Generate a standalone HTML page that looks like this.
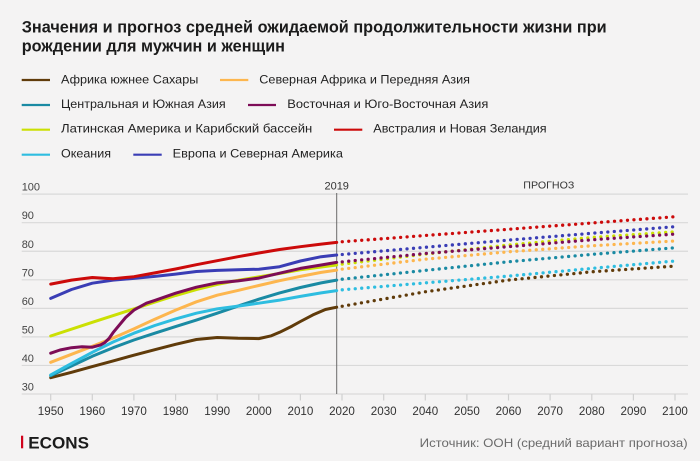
<!DOCTYPE html>
<html><head><meta charset="utf-8"><style>
html,body{margin:0;padding:0;background:#f4f3f3;}
svg{display:block;font-family:"Liberation Sans","Noto Sans CJK SC",sans-serif;}
</style></head><body>
<svg width="700" height="461" viewBox="0 0 700 461" xmlns="http://www.w3.org/2000/svg">
<rect x="0" y="0" width="700" height="461" fill="#f4f3f3"/>
<!-- title -->
<text x="21.7" y="32.5" font-size="16.5" font-weight="bold" fill="#1b1b1b" textLength="585" lengthAdjust="spacingAndGlyphs">Значения и прогноз средней ожидаемой продолжительности жизни при</text>
<text x="21.7" y="51.3" font-size="16.5" font-weight="bold" fill="#1b1b1b" textLength="263.3" lengthAdjust="spacingAndGlyphs">рождении для мужчин и женщин</text>
<!-- legend -->
<g stroke-width="2.2">
<line x1="21.7" y1="80" x2="50" y2="80" stroke="#603b0a"/>
<line x1="220" y1="80" x2="248.3" y2="80" stroke="#fdb64e"/>
<line x1="21.7" y1="105" x2="50" y2="105" stroke="#1a8aa3"/>
<line x1="248" y1="105" x2="276" y2="105" stroke="#7d0c57"/>
<line x1="21.7" y1="129.7" x2="50" y2="129.7" stroke="#cbe003"/>
<line x1="334" y1="129.7" x2="362.3" y2="129.7" stroke="#cc0a0a"/>
<line x1="21.7" y1="154.7" x2="50" y2="154.7" stroke="#2ebde0"/>
<line x1="133.3" y1="154.7" x2="161.7" y2="154.7" stroke="#3a3db5"/>
</g>
<g font-size="11.8" fill="#222">
<text x="61" y="83.3" textLength="137.3" lengthAdjust="spacingAndGlyphs">Африка южнее Сахары</text>
<text x="259.3" y="83.3" textLength="210.7" lengthAdjust="spacingAndGlyphs">Северная Африка и Передняя Азия</text>
<text x="61" y="107.9" textLength="164.7" lengthAdjust="spacingAndGlyphs">Центральная и Южная Азия</text>
<text x="287.3" y="107.9" textLength="201" lengthAdjust="spacingAndGlyphs">Восточная и Юго-Восточная Азия</text>
<text x="61" y="132.6" textLength="251.3" lengthAdjust="spacingAndGlyphs">Латинская Америка и Карибский бассейн</text>
<text x="373.3" y="132.6" textLength="173.3" lengthAdjust="spacingAndGlyphs">Австралия и Новая Зеландия</text>
<text x="61" y="157.7" textLength="50" lengthAdjust="spacingAndGlyphs">Океания</text>
<text x="172.7" y="157.7" textLength="170.2" lengthAdjust="spacingAndGlyphs">Европа и Северная Америка</text>
</g>
<!-- grid -->
<g stroke="#d9d9d9" stroke-width="1.2">
<line x1="21.7" y1="194.15" x2="688" y2="194.15"/>
<line x1="21.7" y1="222.7" x2="688" y2="222.7"/>
<line x1="21.7" y1="251.25" x2="688" y2="251.25"/>
<line x1="21.7" y1="279.8" x2="688" y2="279.8"/>
<line x1="21.7" y1="308.35" x2="688" y2="308.35"/>
<line x1="21.7" y1="336.9" x2="688" y2="336.9"/>
<line x1="21.7" y1="365.45" x2="688" y2="365.45"/>
<line x1="21.7" y1="394" x2="688" y2="394"/>
</g>
<g stroke="#d0d0d0" stroke-width="1.2">
<line x1="50.7" y1="394" x2="50.7" y2="400.5"/>
<line x1="92.3" y1="394" x2="92.3" y2="400.5"/>
<line x1="133.9" y1="394" x2="133.9" y2="400.5"/>
<line x1="175.6" y1="394" x2="175.6" y2="400.5"/>
<line x1="217.2" y1="394" x2="217.2" y2="400.5"/>
<line x1="258.8" y1="394" x2="258.8" y2="400.5"/>
<line x1="300.4" y1="394" x2="300.4" y2="400.5"/>
<line x1="342.0" y1="394" x2="342.0" y2="400.5"/>
<line x1="383.7" y1="394" x2="383.7" y2="400.5"/>
<line x1="425.3" y1="394" x2="425.3" y2="400.5"/>
<line x1="466.9" y1="394" x2="466.9" y2="400.5"/>
<line x1="508.5" y1="394" x2="508.5" y2="400.5"/>
<line x1="550.1" y1="394" x2="550.1" y2="400.5"/>
<line x1="591.8" y1="394" x2="591.8" y2="400.5"/>
<line x1="633.4" y1="394" x2="633.4" y2="400.5"/>
<line x1="675.0" y1="394" x2="675.0" y2="400.5"/>
</g>
<!-- y labels -->
<g font-size="11" fill="#444">
<text x="21.7" y="190.7">100</text>
<text x="21.7" y="219.2">90</text>
<text x="21.7" y="247.8">80</text>
<text x="21.7" y="276.3">70</text>
<text x="21.7" y="304.9">60</text>
<text x="21.7" y="333.4">50</text>
<text x="21.7" y="362">40</text>
<text x="21.7" y="390.5">30</text>
</g>
<!-- x labels -->
<g font-size="11.6" fill="#333" text-anchor="middle">
<text x="50.7" y="415">1950</text>
<text x="92.3" y="415">1960</text>
<text x="133.9" y="415">1970</text>
<text x="175.6" y="415">1980</text>
<text x="217.2" y="415">1990</text>
<text x="258.8" y="415">2000</text>
<text x="300.4" y="415">2010</text>
<text x="342.0" y="415">2020</text>
<text x="383.7" y="415">2030</text>
<text x="425.3" y="415">2040</text>
<text x="466.9" y="415">2050</text>
<text x="508.5" y="415">2060</text>
<text x="550.1" y="415">2070</text>
<text x="591.8" y="415">2080</text>
<text x="633.4" y="415">2090</text>
<text x="675.0" y="415">2100</text>
</g>
<!-- 2019 marker -->
<line x1="336.7" y1="193" x2="336.7" y2="394" stroke="#6a6a6a" stroke-width="1"/>
<text x="336.7" y="189.3" font-size="11" fill="#333" text-anchor="middle">2019</text>
<text x="523.3" y="188.5" font-size="10.5" fill="#333" textLength="51" lengthAdjust="spacingAndGlyphs">ПРОГНОЗ</text>
<!-- historical series -->
<g fill="none" stroke-width="3" stroke-linejoin="round" stroke-linecap="round">
<polyline stroke="#603b0a" points="50.7,377.7 71.5,372.3 92.3,366.6 113.1,360.9 133.9,355.2 154.8,349.7 175.6,344.3 196.4,339.5 217.2,337.5 238.0,338.3 258.8,338.6 271.3,335.8 279.6,332.3 292.1,326.1 300.4,321.5 312.9,314.9 325.4,309.5 336.7,307.2"/>
<polyline stroke="#1a8aa3" points="50.7,375.7 71.5,366.0 92.3,356.3 113.1,347.7 133.9,340.0 154.8,333.2 175.6,326.6 196.4,320.1 217.2,313.2 238.0,306.1 258.8,299.2 279.6,292.9 300.4,287.5 321.2,282.9 336.7,280.1"/>
<polyline stroke="#2ebde0" points="50.7,374.9 71.5,363.5 92.3,352.3 113.1,342.0 133.9,333.2 154.8,325.5 175.6,318.9 196.4,313.2 217.2,308.9 238.0,306.1 258.8,303.2 279.6,300.1 300.4,296.4 321.2,292.9 336.7,290.6"/>
<polyline stroke="#fdb64e" points="50.7,362.3 71.5,354.3 92.3,346.3 113.1,338.0 133.9,328.9 154.8,319.2 175.6,310.1 196.4,301.8 217.2,295.2 238.0,290.4 258.8,285.5 279.6,280.7 300.4,276.4 321.2,272.4 336.7,270.1"/>
<polyline stroke="#cbe003" points="50.7,336.0 92.3,322.3 133.9,308.9 154.8,302.1 175.6,295.5 196.4,289.5 217.2,284.4 238.0,280.4 258.8,276.9 279.6,273.5 300.4,269.8 321.2,267.0 336.7,265.0"/>
<polyline stroke="#7d0c57" points="50.7,353.2 60,350 71.5,347.7 82,346.8 92.3,347.2 100.6,344.9 104.8,342.6 109,338.5 113.1,332.6 125.6,317.5 133.9,310.1 146.4,303.2 154.8,300.4 175.6,293.2 196.4,287.2 217.2,282.9 238.0,280.9 258.8,278.1 279.6,273.2 300.4,268.4 321.2,265.0 336.7,262.4"/>
<polyline stroke="#3a3db5" points="50.7,298.4 71.5,289.5 92.3,283.2 113.1,280.1 133.9,278.4 154.8,276.4 175.6,274.1 196.4,271.5 217.2,270.4 238.0,269.8 258.8,269.2 279.6,266.7 300.4,261.0 321.2,256.7 336.7,255.0"/>
<polyline stroke="#cc0a0a" points="50.7,284.1 71.5,280.1 92.3,277.5 104,278.2 113.1,278.7 133.9,276.7 154.8,272.9 175.6,269.0 196.4,264.7 217.2,260.7 238.0,256.7 258.8,253.0 279.6,249.5 300.4,246.7 321.2,244.1 336.7,242.4"/>
</g>
<!-- projections -->
<g fill="none" stroke-width="3.3" stroke-linecap="round" stroke-dasharray="0 6.5" stroke-dashoffset="0.9">
<polyline stroke="#603b0a" points="336.7,307.2 425.3,291.8 508.5,280.1 591.8,271.8 675.0,266.1"/>
<polyline stroke="#1a8aa3" points="336.7,279.8 425.3,270.4 508.5,261.8 591.8,254.4 675.0,247.8"/>
<polyline stroke="#2ebde0" points="336.7,290.3 425.3,282.9 508.5,276.1 591.8,268.4 675.0,261.0"/>
<polyline stroke="#fdb64e" points="336.7,269.8 425.3,259.2 508.5,251.8 591.8,245.8 675.0,241.0"/>
<polyline stroke="#cbe003" points="336.7,264.8 425.3,254.1 508.5,245.0 591.8,237.5 675.0,231.8"/>
<polyline stroke="#7d0c57" points="336.7,262.4 425.3,253.5 508.5,246.7 591.8,239.8 675.0,234.1"/>
<polyline stroke="#3a3db5" points="336.7,255.0 425.3,247.3 508.5,240.1 591.8,233.3 675.0,226.7"/>
<polyline stroke="#cc0a0a" points="336.7,242.2 425.3,235.5 508.5,229.3 591.8,223.0 675.0,216.7"/>
</g>
<!-- footer -->
<rect x="21" y="435.7" width="2.2" height="12.6" fill="#d0021b"/>
<text x="28.3" y="448.3" font-size="17" font-weight="bold" fill="#1b1b1b" textLength="60.7" lengthAdjust="spacingAndGlyphs">ECONS</text>
<text x="419.6" y="446.8" font-size="12" fill="#6b6b6b" textLength="268" lengthAdjust="spacingAndGlyphs">Источник: ООН (средний вариант прогноза)</text>
</svg>
</body></html>
